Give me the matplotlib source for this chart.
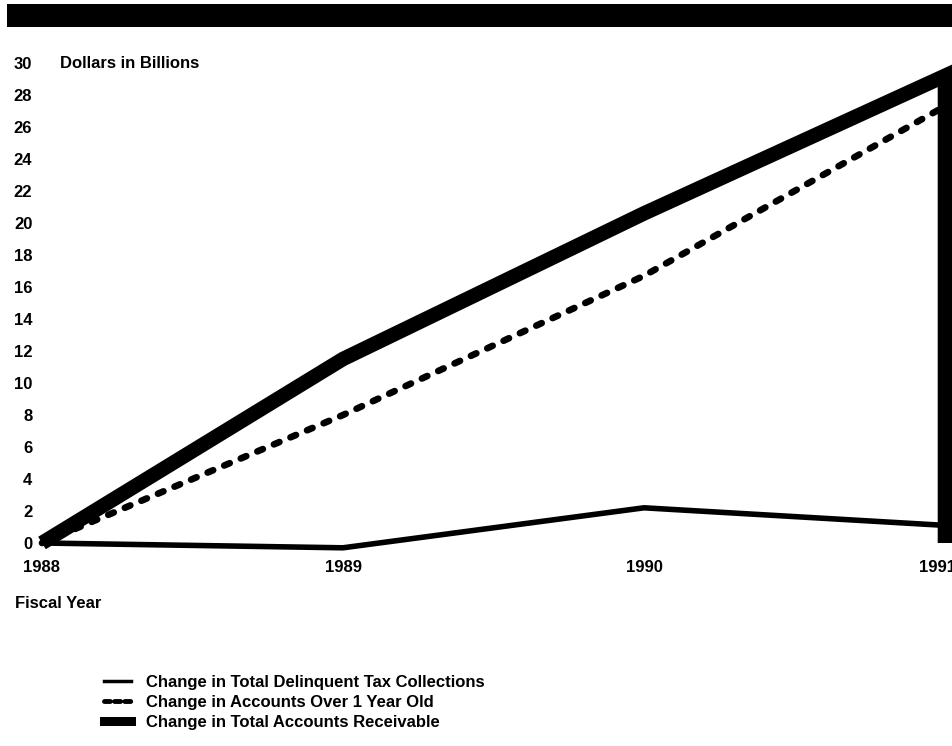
import matplotlib
matplotlib.use("Agg")
import matplotlib.pyplot as plt
import matplotlib.transforms as mtransforms
import numpy as np
from matplotlib.lines import Line2D
from matplotlib.patches import Rectangle

plt.rcParams['font.family'] = ['Liberation Sans', 'DejaVu Sans']

# ---- data ----
years = [1988, 1989, 1990, 1991]
year_labels = ['1988', '1989', '1990', '1991']
delinquent_collections = [0.0, -0.3, 2.2, 1.1]
accounts_over_1yr = [0.0, 8.0, 16.7, 27.3]
total_receivable = [0.0, 11.5, 20.6, 29.2]
y_ticks = list(range(0, 31, 2))
legend_labels = ['Change in Total Delinquent Tax Collections',
                 'Change in Accounts Over 1 Year Old',
                 'Change in Total Accounts Receivable']

W, H = 952, 746
FS = 12
fig = plt.figure(figsize=(W / 100, H / 100), dpi=100)

# axes placed so that 1988 -> x=42px, 1991 -> x=945px, 0 -> y=543px, 30 -> y=63px
ax_left, ax_right = 42, 945
ax_bottom, ax_top = 543, 63
ax = fig.add_axes([ax_left / W, 1 - ax_bottom / H,
                   (ax_right - ax_left) / W, (ax_bottom - ax_top) / H])
ax.set_xlim(years[0], years[-1])
ax.set_ylim(0, 30)
for s in ax.spines.values():
    s.set_visible(False)
ax.patch.set_visible(False)

# top black band
fig.patches.append(Rectangle((7 / W, 1 - 27 / H), 1, 23 / H, transform=fig.transFigure,
                             facecolor='black', edgecolor='none', zorder=0))

# thin line
ax.plot(years, delinquent_collections, color='black', lw=4.0, clip_on=False,
        solid_capstyle='butt', zorder=3)
# dashed line
ax.plot(years, accounts_over_1yr, color='black', lw=4.8, clip_on=False,
        linestyle=(0, (0.9, 1.8)), dash_capstyle='round', zorder=3)
# thick line, closing down to zero at the last year
tx = list(years) + [years[-1]]
ty = list(total_receivable) + [0]
ax.plot(tx, ty, color='black', lw=10.5, clip_on=False,
        solid_joinstyle='miter', solid_capstyle='butt', zorder=4)

ax.set_xticks(years)
ax.set_xticklabels(year_labels)
ax.set_yticks(y_ticks)
ax.set_yticklabels([str(v) for v in y_ticks])
ax.tick_params(axis='both', length=0, labelsize=FS)
ax.tick_params(axis='y', pad=7)
ax.tick_params(axis='x', pad=12)
for lab in ax.get_xticklabels() + ax.get_yticklabels():
    lab.set_fontweight('bold')
# the last year label sits at the right edge, as in the reference (partly cut)
last = ax.get_xticklabels()[-1]
last.set_transform(last.get_transform() +
                   mtransforms.ScaledTranslation(-7 / 100, 0, fig.dpi_scale_trans))

fig.text(60 / W, 1 - 63 / H, 'Dollars in Billions', fontsize=FS, fontweight='bold',
         ha='left', va='center')
fig.text(15 / W, 1 - 604 / H, 'Fiscal Year', fontsize=FS, fontweight='bold',
         ha='left', va='center')

handles = [Line2D([], [], color='black', lw=2.5),
           Line2D([], [], color='black', lw=3.5, linestyle=(0, (1.2, 0.9)), dash_capstyle='round'),
           Line2D([], [], color='black', lw=6.5)]
leg = fig.legend(handles, legend_labels, loc='upper left',
                 bbox_to_anchor=(104 / W, 1 - 675 / H), frameon=False,
                 borderpad=0, borderaxespad=0, handlelength=1.6, handletextpad=0.9,
                 labelspacing=0.3, prop={'size': FS, 'weight': 'bold'})

fig.savefig('out.png', dpi=100)
